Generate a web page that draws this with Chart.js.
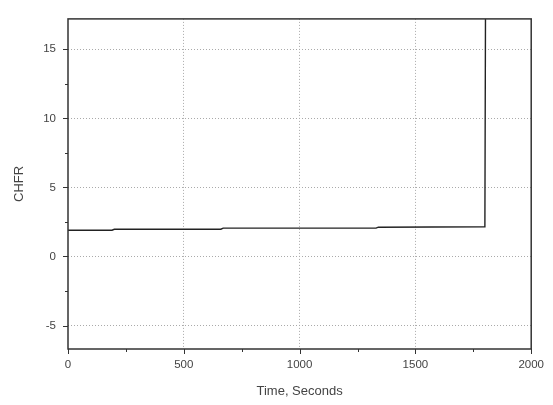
<!DOCTYPE html>
<html>
<head>
<meta charset="utf-8">
<script src="https://cdn.jsdelivr.net/npm/chart.js@4.4.1/dist/chart.umd.min.js"></script>
<style>
  html, body { margin: 0; padding: 0; background: #fff; }
  #wrap { width: 553px; height: 405px; }
</style>
</head>
<body>
<div id="wrap"><canvas id="chfr-chart" width="553" height="405"></canvas></div>
<script>
// CHFR vs time
const timeSec = [0, 190, 200, 660, 670, 1330, 1340, 1800, 1803];
const chfr = [1.9, 1.9, 1.97, 1.97, 2.05, 2.05, 2.12, 2.15, 20];

const xTicks = [0, 500, 1000, 1500, 2000];
const xMinor = [250, 750, 1250, 1750];
const yTicks = [-5, 0, 5, 10, 15];
const yMinor = [-2.5, 2.5, 7.5, 12.5];

const axisColor = "#333";
const textColor = "#444";
const fontFamily = "Liberation Sans, Arial, sans-serif";

// frame + outward tick marks
const framePlugin = {
  id: "frame",
  afterDraw(chart) {
    const { ctx, chartArea: a, scales } = chart;
    ctx.save();
    ctx.strokeStyle = axisColor;
    ctx.lineWidth = 1.5;
    ctx.strokeRect(a.left, a.top, a.right - a.left, a.bottom - a.top);

    ctx.lineWidth = 1;
    ctx.beginPath();
    xTicks.forEach((v) => {
      const px = Math.round(scales.x.getPixelForValue(v)) + 0.5;
      ctx.moveTo(px, a.bottom);
      ctx.lineTo(px, a.bottom + 5);
    });
    xMinor.forEach((v) => {
      const px = Math.round(scales.x.getPixelForValue(v)) + 0.5;
      ctx.moveTo(px, a.bottom);
      ctx.lineTo(px, a.bottom + 3);
    });
    yTicks.forEach((v) => {
      const py = Math.round(scales.y.getPixelForValue(v)) + 0.5;
      ctx.moveTo(a.left, py);
      ctx.lineTo(a.left - 5, py);
    });
    yMinor.forEach((v) => {
      const py = Math.round(scales.y.getPixelForValue(v)) + 0.5;
      ctx.moveTo(a.left, py);
      ctx.lineTo(a.left - 3, py);
    });
    ctx.stroke();
    ctx.restore();
  },
};

const ctx = document.getElementById("chfr-chart").getContext("2d");

new Chart(ctx, {
  type: "line",
  data: {
    datasets: [
      {
        label: "CHFR",
        data: timeSec.map((t, i) => ({ x: t, y: chfr[i] })),
        borderColor: "#222",
        borderWidth: 1.4,
        pointRadius: 0,
        fill: false,
        tension: 0,
      },
    ],
  },
  options: {
    responsive: false,
    animation: false,
    events: [],
    layout: { padding: { left: 0, top: 7, right: 20, bottom: 0 } },
    plugins: { legend: { display: false }, tooltip: { enabled: false } },
    scales: {
      x: {
        type: "linear",
        min: 0,
        max: 2000,
        afterBuildTicks: (s) => { s.ticks = xTicks.map((v) => ({ value: v })); },
        afterFit: (s) => { s.height = 56; },
        border: { display: false, dash: [1, 2] },
        grid: {
          drawTicks: false,
          color: (c) => (c.tick && (c.tick.value === 0 || c.tick.value === 2000) ? "transparent" : "#aaa"),
          lineWidth: 1,
        },
        ticks: {
          padding: 9,
          maxRotation: 0,
          color: textColor,
          callback: (v) => String(v),
          font: { family: fontFamily, size: 11.5 },
        },
        title: {
          display: true,
          text: "Time, Seconds",
          color: textColor,
          padding: { top: 1, bottom: 6 },
          font: { family: fontFamily, size: 13 },
        },
      },
      y: {
        type: "linear",
        min: -6.7,
        max: 17.2,
        afterBuildTicks: (s) => { s.ticks = yTicks.map((v) => ({ value: v })); },
        afterFit: (s) => { s.width = 68; },
        border: { display: false, dash: [1, 2] },
        grid: {
          drawTicks: false,
          color: "#aaa",
          lineWidth: 1,
        },
        ticks: {
          padding: 12,
          color: textColor,
          callback: (v) => String(v),
          font: { family: fontFamily, size: 11.5 },
        },
        title: {
          display: true,
          text: "CHFR",
          color: textColor,
          padding: { top: 12, bottom: 0 },
          font: { family: fontFamily, size: 13 },
        },
      },
    },
  },
  plugins: [framePlugin],
});
</script>
</body>
</html>
